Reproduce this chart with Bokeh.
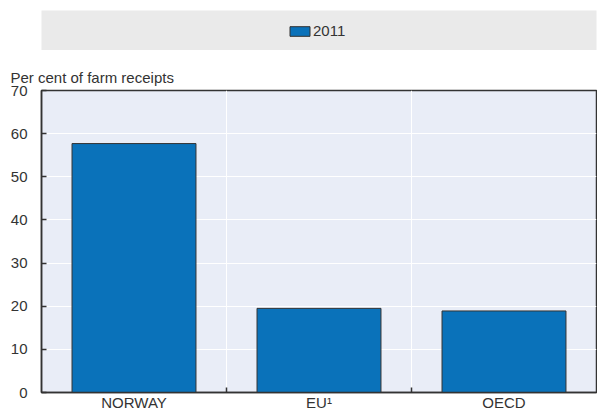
from bokeh.plotting import figure
from bokeh.models import Range1d, FixedTicker, Title, Legend, LegendItem
from bokeh.layouts import column
from bokeh.embed import file_html
from bokeh.resources import INLINE

categories = ["NORWAY", "EU¹", "OECD"]
values_2011 = [57.7, 19.5, 18.9]
y_ticks = [0, 10, 20, 30, 40, 50, 60, 70]
series_name = "2011"
y_title = "Per cent of farm receipts"

FONT = "Liberation Sans"
TXT = "#333333"
BAR = "#0A72BA"

xs = [i + 0.5 for i in range(len(categories))]
bounds = [i for i in range(1, len(categories))]

# legend band
lf = figure(width=597, height=50, x_range=Range1d(0, 1), y_range=Range1d(0, 1),
            toolbar_location=None, output_backend="svg",
            x_axis_type=None, y_axis_type=None,
            min_border_left=41, min_border_right=0, min_border_top=10, min_border_bottom=0,
            background_fill_color="#EAEAEA", outline_line_color=None)
lf.grid.visible = False
r = lf.vbar(x=[0.5], bottom=[0.0], top=[float("nan")], width=0.1,
            fill_color=BAR, line_color=TXT, line_width=1)
leg = Legend(items=[LegendItem(label=series_name, renderers=[r])], location=(246, 11),
             orientation="horizontal", background_fill_alpha=0, border_line_alpha=0,
             glyph_width=25, glyph_height=12, label_standoff=1, padding=0, margin=0,
             label_text_font_size="15px", label_text_font=FONT, label_text_color=TXT)
lf.add_layout(leg, "center")

p = figure(width=597, height=363, x_range=Range1d(0, 3), y_range=Range1d(0, 70),
           toolbar_location=None, output_backend="svg",
           min_border_left=39, min_border_right=1, min_border_top=40, min_border_bottom=0,
           background_fill_color="#E9EDF7", outline_line_color=TXT, outline_line_width=1.5)

p.vbar(x=xs, top=values_2011, width=0.67, fill_color=BAR, line_color=TXT, line_width=1)

p.xaxis.ticker = FixedTicker(ticks=xs, minor_ticks=bounds)
p.xaxis.major_label_overrides = {x: c for x, c in zip(xs, categories)}
p.xaxis.major_tick_in = 0
p.xaxis.major_tick_out = 0
p.xaxis.minor_tick_in = 5
p.xaxis.minor_tick_out = 0
p.xaxis.minor_tick_line_color = TXT
p.xaxis.minor_tick_line_width = 1.5
p.xaxis.major_label_standoff = 1

p.yaxis.ticker = FixedTicker(ticks=y_ticks)
p.yaxis.major_tick_in = 5
p.yaxis.major_tick_out = 0
p.yaxis.major_tick_line_color = TXT
p.yaxis.major_tick_line_width = 1.5
p.yaxis.major_label_standoff = 14

for ax in (p.xaxis, p.yaxis):
    ax.axis_line_color = TXT
    ax.axis_line_width = 1.5
    ax.major_label_text_font = FONT
    ax.major_label_text_font_size = "15px"
    ax.major_label_text_color = TXT

p.xgrid.ticker = FixedTicker(ticks=bounds)
p.xgrid.grid_line_color = "white"
p.ygrid.grid_line_color = "white"
p.ygrid.grid_line_width = 1

t = Title(text=y_title, align="left", offset=-31, text_font_size="15px",
          text_font_style="normal", text_color=TXT, text_font=FONT, standoff=10)
p.add_layout(t, "above")

layout = column(lf, p, spacing=0)
open("out.html", "w").write(file_html(layout, INLINE))
